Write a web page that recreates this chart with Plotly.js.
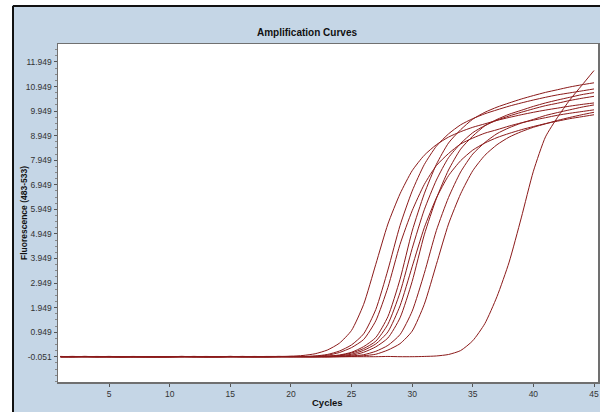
<!DOCTYPE html>
<html>
<head>
<meta charset="utf-8">
<script src="https://cdn.plot.ly/plotly-3.0.1.min.js"></script>
<style>html,body{margin:0;padding:0;background:#fff;}#chart{width:600px;height:412px;}</style>
</head>
<body>
<div id="chart"></div>
<script>
// ---- data ----
var cycles = [1,2,3,4,5,6,7,8,9,10,11,12,13,14,15,16,17,18,19,20,21,22,23,24,25,26,27,28,29,30,31,32,33,34,35,36,37,38,39,40,41,42,43,44,45];

var curve1 = [-0.04,-0.05,-0.04,-0.05,-0.05,-0.06,-0.05,-0.05,-0.05,-0.05,
              -0.04,-0.05,-0.05,-0.06,-0.05,-0.05,-0.05,-0.04,-0.04,-0.03,
              0.00,0.07,0.22,0.50,1.02,2.08,3.71,5.35,6.58,7.52,
              8.15,8.58,8.89,9.11,9.29,9.43,9.57,9.69,9.80,9.90,
              9.99,10.07,10.15,10.22,10.28];
var curve2 = [-0.05,-0.05,-0.04,-0.05,-0.06,-0.05,-0.05,-0.05,-0.06,-0.05,
              -0.05,-0.04,-0.05,-0.05,-0.05,-0.04,-0.05,-0.05,-0.05,-0.05,
              -0.04,-0.02,0.04,0.18,0.43,0.88,1.87,3.48,5.29,6.69,
              7.77,8.52,9.02,9.39,9.64,9.84,10.00,10.15,10.28,10.40,
              10.51,10.61,10.69,10.77,10.85];
var curve3 = [-0.05,-0.04,-0.05,-0.05,-0.05,-0.05,-0.06,-0.05,-0.05,-0.05,
              -0.05,-0.05,-0.04,-0.05,-0.05,-0.05,-0.06,-0.05,-0.05,-0.05,
              -0.05,-0.03,0.01,0.12,0.32,0.65,1.41,2.77,4.52,5.89,
              6.96,7.73,8.22,8.61,8.85,9.05,9.19,9.34,9.47,9.58,
              9.68,9.78,9.86,9.93,10.00];
var curve4 = [-0.05,-0.06,-0.05,-0.05,-0.04,-0.05,-0.05,-0.05,-0.05,-0.06,
              -0.05,-0.05,-0.05,-0.05,-0.04,-0.05,-0.05,-0.05,-0.05,-0.04,
              -0.05,-0.05,-0.03,0.02,0.13,0.36,0.73,1.58,3.10,5.06,
              6.58,7.78,8.65,9.19,9.62,9.90,10.11,10.28,10.44,10.58,
              10.71,10.82,10.93,11.02,11.10];
var curve5 = [-0.05,-0.05,-0.05,-0.04,-0.05,-0.05,-0.05,-0.06,-0.05,-0.05,
              -0.04,-0.05,-0.05,-0.05,-0.05,-0.05,-0.04,-0.05,-0.05,-0.05,
              -0.05,-0.05,-0.03,0.00,0.10,0.28,0.58,1.27,2.56,4.35,
              5.93,7.14,8.05,8.63,9.07,9.36,9.58,9.75,9.90,10.04,
              10.17,10.27,10.38,10.47,10.55];
var curve6 = [-0.04,-0.05,-0.05,-0.05,-0.05,-0.06,-0.05,-0.05,-0.05,-0.05,
              -0.05,-0.05,-0.06,-0.05,-0.04,-0.05,-0.05,-0.05,-0.04,-0.05,
              -0.05,-0.05,-0.04,-0.01,0.05,0.21,0.47,0.96,2.02,3.61,
              5.20,6.41,7.32,7.93,8.36,8.65,8.87,9.04,9.19,9.32,
              9.44,9.54,9.64,9.72,9.80];
var curve7 = [-0.05,-0.05,-0.04,-0.05,-0.05,-0.05,-0.05,-0.05,-0.06,-0.05,
              -0.04,-0.05,-0.05,-0.05,-0.05,-0.06,-0.05,-0.05,-0.04,-0.05,
              -0.05,-0.05,-0.05,-0.03,0.01,0.13,0.35,0.71,1.53,3.01,
              4.91,6.39,7.55,8.40,8.93,9.35,9.61,9.82,9.98,10.14,
              10.28,10.40,10.51,10.62,10.70];
var curve8 = [-0.06,-0.05,-0.05,-0.05,-0.04,-0.05,-0.05,-0.05,-0.05,-0.05,
              -0.05,-0.06,-0.05,-0.05,-0.04,-0.05,-0.05,-0.05,-0.05,-0.05,
              -0.04,-0.05,-0.05,-0.045,-0.02,0.03,0.17,0.41,0.85,1.80,
              3.34,5.09,6.43,7.47,8.20,8.67,9.03,9.27,9.46,9.61,
              9.77,9.89,10.00,10.11,10.20];
var curve9 = [-0.05,-0.04,-0.05,-0.05,-0.05,-0.05,-0.05,-0.06,-0.05,-0.05,
              -0.05,-0.04,-0.05,-0.05,-0.05,-0.05,-0.05,-0.06,-0.05,-0.04,
              -0.05,-0.05,-0.05,-0.05,-0.04,-0.01,0.05,0.22,0.48,0.99,
              2.08,3.71,5.35,6.58,7.52,8.15,8.58,8.89,9.11,9.29,
              9.43,9.57,9.69,9.80,9.90];
var curve10 = [-0.05,-0.05,-0.05,-0.06,-0.05,-0.05,-0.04,-0.05,-0.05,-0.05,
               -0.05,-0.05,-0.06,-0.05,-0.05,-0.04,-0.05,-0.05,-0.05,-0.05,
               -0.05,-0.05,-0.06,-0.05,-0.05,-0.05,-0.05,-0.04,-0.05,-0.05,
               -0.04,-0.02,0.04,0.20,0.60,1.30,2.40,3.80,5.60,7.50,
               8.90,9.70,10.40,11.00,11.60];

var yTickVals = [-0.051,0.949,1.949,2.949,3.949,4.949,5.949,6.949,7.949,8.949,9.949,10.949,11.949];
var yTickText = ['-0.051','0.949','1.949','2.949','3.949','4.949','5.949','6.949','7.949','8.949','9.949','10.949','11.949'];
var xTickVals = [5,10,15,20,25,30,35,40,45];
var xTickText = ['5','10','15','20','25','30','35','40','45'];

var chartTitle = 'Amplification Curves';
var xTitle = 'Cycles';
var yTitle = 'Fluorescence (483-533)';

// ---- drawing ----
var series = [curve1,curve2,curve3,curve4,curve5,curve6,curve7,curve8,curve9,curve10];
var lineColor = '#8b1a1a';
var traces = series.map(function(s){
  return {x: cycles, y: s, type:'scatter', mode:'lines',
          line:{color: lineColor, width:1, shape:'spline', smoothing:0.6},
          hoverinfo:'skip'};
});

var sans = 'Liberation Sans, Arial, sans-serif';
var L = 58, R = 598, T = 44, B = 382;
function px(x){ return (x - L)/(R - L); }
function py(y){ return (B - y)/(B - T); }

var layout = {
  width:600, height:412,
  margin:{l:L, r:600-R, t:T, b:412-B, pad:0},
  paper_bgcolor:'#c5d6e6',
  plot_bgcolor:'#ffffff',
  showlegend:false,
  title:{text: chartTitle, x:307/600, xref:'container', xanchor:'center',
         y:1-32/412, yref:'container', yanchor:'middle',
         font:{family:sans, size:10, color:'#111', weight:'bold'}},
  xaxis:{range:[0.79,45.33], tickmode:'array', tickvals:xTickVals, ticktext:xTickText,
         ticks:'outside', ticklen:3, tickcolor:'#555', showgrid:false, zeroline:false,
         showline:true, mirror:true, linecolor:'#707070', linewidth:1.5,
         tickfont:{family:sans, size:8.5, color:'#333'}},
  yaxis:{range:[-1.08,12.68], tickmode:'array', tickvals:yTickVals, ticktext:yTickText,
         ticks:'outside', ticklen:3, tickcolor:'#555', showgrid:false, zeroline:false,
         showline:true, mirror:true, linecolor:'#707070', linewidth:1.5,
         minor:{tick0:-0.051, dtick:0.25, ticks:'outside', ticklen:2, tickcolor:'#888'},
         tickfont:{family:sans, size:8.5, color:'#333'}},
  annotations:[
    {text:yTitle, xref:'paper', yref:'paper', x:px(24), y:py(213), xanchor:'center', yanchor:'middle',
     textangle:-90, showarrow:false, font:{family:sans, size:8.5, color:'#111', weight:'bold'}},
    {text:xTitle, xref:'paper', yref:'paper', x:px(327), y:py(402), xanchor:'center', yanchor:'middle',
     showarrow:false, font:{family:sans, size:9.5, color:'#111', weight:'bold'}}
  ],
  shapes:[
    {type:'rect', xref:'paper', yref:'paper', x0:px(0), x1:px(12), y0:py(412), y1:py(0),
     fillcolor:'#ffffff', line:{width:0}},
    {type:'rect', xref:'paper', yref:'paper', x0:px(0), x1:px(600), y0:py(5), y1:py(0),
     fillcolor:'#ffffff', line:{width:0}},
    {type:'line', xref:'paper', yref:'paper', x0:px(13), x1:px(13), y0:py(412), y1:py(6),
     line:{color:'#111', width:2}},
    {type:'line', xref:'paper', yref:'paper', x0:px(13), x1:px(600), y0:py(6), y1:py(6),
     line:{color:'#111', width:2}}
  ]
};

Plotly.newPlot('chart', traces, layout, {staticPlot:true, displayModeBar:false});
</script>
</body>
</html>
